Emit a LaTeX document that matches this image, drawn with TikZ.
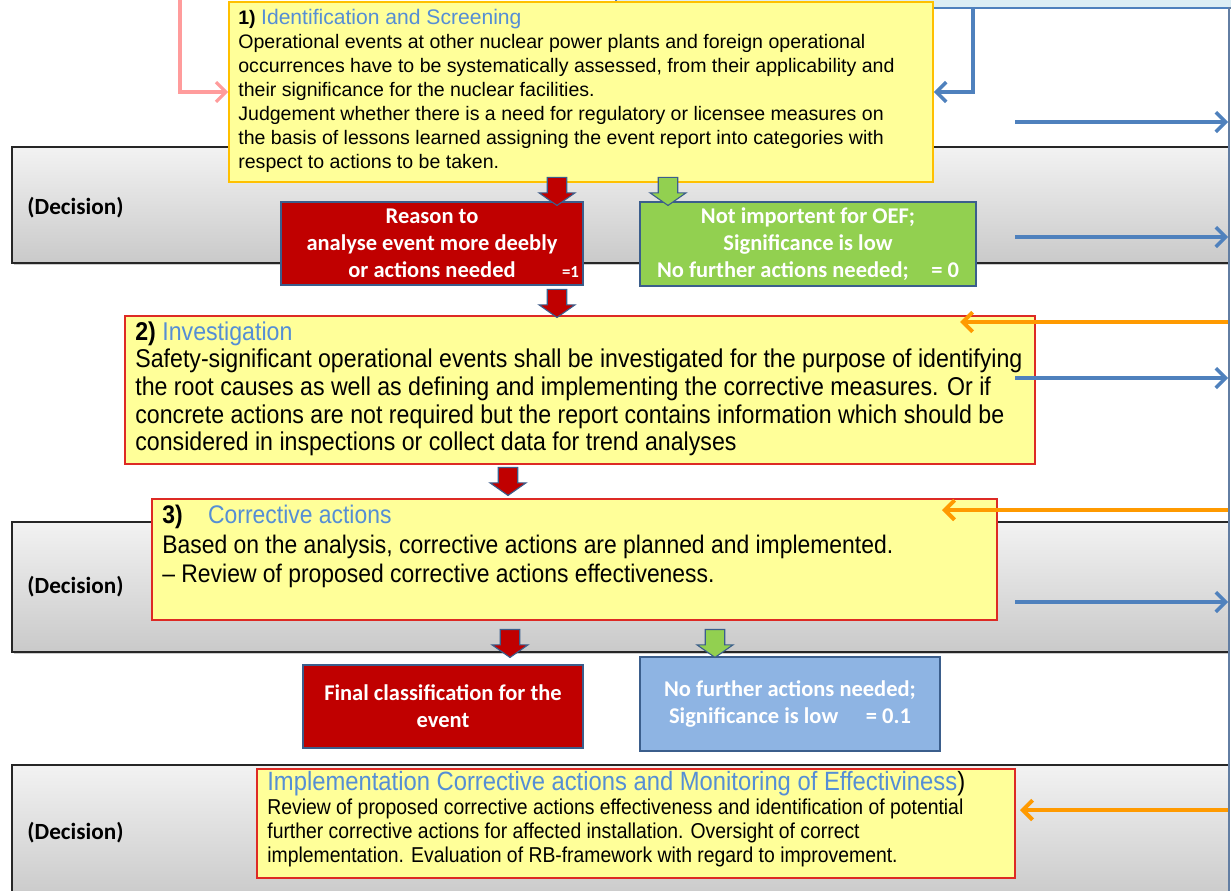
\documentclass[tikz,border=0pt]{standalone}
\usepackage{fontspec}
\setmainfont{Liberation Sans}
\newfontfamily\narrowfont[FakeStretch=0.9]{Liberation Sans}
\newfontfamily\calfont{Carlito}
\usetikzlibrary{arrows.meta,shapes.arrows,shadows,fit,positioning}

\definecolor{boxyellow}{HTML}{FFFF99}
\definecolor{boxorange}{HTML}{FFC000}
\definecolor{boxred}{HTML}{DD2A24}
\definecolor{titleblue}{HTML}{558ED5}
\definecolor{darkred}{HTML}{C00000}
\definecolor{okgreen}{HTML}{92D050}
\definecolor{lowblue}{HTML}{8EB4E3}
\definecolor{edgeblue}{HTML}{3B5E8C}
\definecolor{linkblue}{HTML}{4F81BD}
\definecolor{linkorange}{HTML}{FF9A00}
\definecolor{linkpink}{HTML}{FF9C9C}
\definecolor{topblue}{HTML}{DCEEF5}

\tikzset{
  band/.style={draw=black!85, line width=1.2pt, top color=gray!10, bottom color=gray!42,
    drop shadow={shadow xshift=1.5pt, shadow yshift=-1.5pt, fill=black!40}, inner sep=0pt},
  ybox/.style={draw=#1, line width=1.3pt, fill=boxyellow, inner sep=0pt,
    drop shadow={shadow xshift=1pt, shadow yshift=-1pt, fill=black, opacity=0.15}},
  cbox/.style={draw=edgeblue, line width=0.8pt, fill=#1, inner sep=0pt},
  ctext/.style={text=white, align=center, inner sep=0pt,
    font=\calfont\bfseries\fontsize{16}{19.3}\selectfont},
  declabel/.style={font=\calfont\bfseries\fontsize{16.5}{19}\selectfont, inner sep=0pt},
  downarr/.style={single arrow, shape border rotate=270, fill=#1, draw=edgeblue,
    line width=0.8pt, minimum height=0.7cm, minimum width=0.9cm,
    single arrow head extend=0.2cm, single arrow tip angle=110, inner sep=0.225cm},
  blueline/.style={draw=linkblue, line width=2.5pt, -{Straight Barb[length=7pt,width=14pt]}},
  orangeline/.style={draw=linkorange, line width=2.8pt, -{Straight Barb[length=7pt,width=14pt]}},
  pinkline/.style={draw=linkpink, line width=2.2pt, -{Straight Barb[length=7pt,width=14pt]}}
}

\begin{document}
\begin{tikzpicture}[x=0.025cm,y=-0.025cm]
\useasboundingbox (0,0) rectangle (1231,890);
\clip (0,0) rectangle (1231,890);

% decision bands
\node[band, fit={(12,147) (1229,263)}] (dec1) {};
\node[band, fit={(12,522) (1229,652)}] (dec2) {};
\node[band, fit={(12,765) (1229,900)}] (dec3) {};
\node[declabel, right=0.4cm of dec1.west, yshift=-2pt] (dec1lbl) {(Decision)};
\node[declabel, right=0.4cm of dec2.west] (dec2lbl) {(Decision)};
\node[declabel, right=0.4cm of dec3.west] (dec3lbl) {(Decision)};

% boxes cut by the page edge
\node[draw=linkblue, line width=1.2pt, fill=topblue, inner sep=0pt, fit={(616,-40) (1300,8)}] (topbox) {};
\node[draw=edgeblue!80, line width=1.2pt, fill=white, inner sep=0pt, fit={(1229,8) (1300,900)}] (fb) {};

% 1) screening
\node[ybox=boxorange, fit={(229,2) (933,182)}] (ident) {};
\node[anchor=north west, align=left, inner sep=0pt, font=\fontsize{13.9}{17}\selectfont]
  (identtxt) at ([shift={(10,8)}]ident.north west)
  {{\bfseries 1)} \textcolor{titleblue}{\fontsize{15}{17}\selectfont Identification and Screening}\\
   Operational events at other nuclear power plants and foreign operational\\
   occurrences have to be systematically assessed, from their applicability and\\
   their significance for the nuclear facilities.\\
   Judgement whether there is a need for regulatory or licensee measures on\\
   the basis of lessons learned assigning the event report into categories with\\
   respect to actions to be taken.};

\node[cbox=darkred, fit={(281,202) (583,285)}] (reason) {};
\node[ctext] (reasontxt) at (reason)
  {Reason to\\ analyse event more deebly\\ or actions needed\rlap{\hspace{33pt}\fontsize{12}{14}\selectfont =1}};
\node[cbox=okgreen, fit={(640,202) (976,286)}] (notimp) {};
\node[ctext] (notimptxt) at (notimp)
  {Not importent for OEF;\\ Significance is low\\ No further actions needed;\quad = 0};

% 2) investigation
\node[ybox=boxred, fit={(125,316) (1035,464)}] (invest) {};
\node[anchor=north west, align=left, inner sep=0pt, font=\narrowfont\fontsize{18.3}{19.7}\selectfont]
  (investtxt) at ([shift={(11,6)}]invest.north west)
  {{\bfseries 2)} \textcolor{titleblue}{Investigation}\\
   Safety-significant operational events shall be investigated for the purpose of identifying\\
   the root causes as well as defining and implementing the corrective measures. Or if\\
   concrete actions are not required but the report contains information which should be\\
   considered in inspections or collect data for trend analyses};

% 3) corrective actions
\node[ybox=boxred, fit={(152,499) (997,620)}] (corr) {};
\node[anchor=north west, align=left, inner sep=0pt, font=\narrowfont\fontsize{18.1}{21}\selectfont]
  (corrtxt) at ([shift={(11,7)}]corr.north west)
  {{\bfseries 3)}\quad\textcolor{titleblue}{Corrective actions}\\
   Based on the analysis, corrective actions are planned and implemented.\\
   – Review of proposed corrective actions effectiveness.};

\node[cbox=darkred, fit={(303,665) (583,748)}] (final) {};
\node[ctext] (finaltxt) at (final) {Final classification for the\\ event};
\node[cbox=lowblue, fit={(640,657) (940,751)}] (nofurther) {};
\node[ctext] (nofurthertxt) at (nofurther) {No further actions needed;\\ Significance is low\quad\ = 0.1};

% implementation
\node[ybox=boxred, fit={(257,769) (1015,878)}] (implem) {};
\node[anchor=north west, align=left, inner sep=0pt, font=\narrowfont\fontsize{15.3}{17}\selectfont]
  (implemtxt) at ([shift={(11,3)}]implem.north west)
  {{\fontsize{18.8}{21}\selectfont\textcolor{titleblue}{Implementation Corrective actions and Monitoring of Effectiviness})}\\
   Review of proposed corrective actions effectiveness and identification of potential\\
   further corrective actions for affected installation. Oversight of correct\\
   implementation. Evaluation of RB-framework with regard to improvement.};

% block arrows
\node[downarr=darkred] (a1) at (557,188) {};
\node[downarr=okgreen] (g1) at (668,188) {};
\node[downarr=darkred] (a2) at (557,300) {};
\node[downarr=darkred] (a3) at (508,478) {};
\node[downarr=darkred] (a4) at (510,640) {};
\node[downarr=okgreen] (g2) at (715,640) {};

% connectors
\coordinate (pinkstart) at (180,-5);
\draw[pinkline] (pinkstart) |- (ident.west);
\coordinate (topdrop) at (973,8);
\draw[blueline] (topdrop) |- (ident.east);
\foreach \y/\n in {122/1,237/2,378/3,602/4}{
  \coordinate (out\n) at (1015,\y);
  \draw[blueline] (out\n) -- (out\n -| fb.west);
}
\coordinate (in1) at (960,322);
\coordinate (in2) at (942,510);
\coordinate (in3) at (1020,810);
\foreach \n in {1,2,3}
  \draw[orangeline] (in\n -| fb.west) -- (in\n);
\end{tikzpicture}
\end{document}
